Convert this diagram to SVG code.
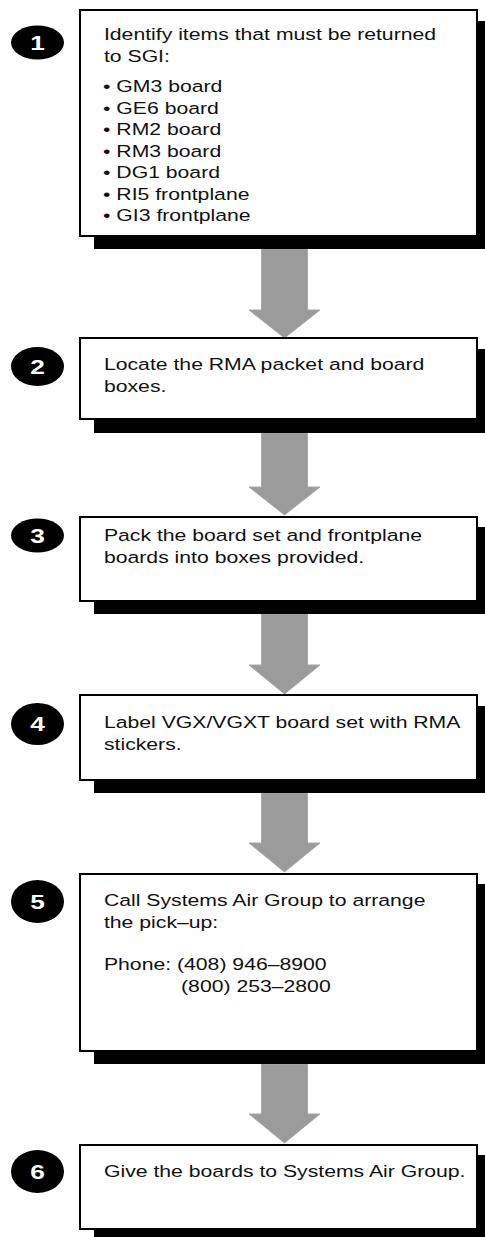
<svg xmlns="http://www.w3.org/2000/svg" width="485" height="1237" viewBox="0 0 485 1237">
<style>
.shadow{fill:#000}
.box{fill:#fff;stroke:#000;stroke-width:2}
.badge{fill:#000}
.num{font-family:"Liberation Sans",Arial,sans-serif;font-weight:bold;font-size:21px;fill:#fff;text-anchor:middle}
.t{font-family:"Liberation Sans",Arial,sans-serif;font-size:16.5px;fill:#111}
.arrow{fill:#9b9b9b;stroke:#a8a8a8;stroke-width:1}
</style>
<rect width="485" height="1237" fill="#fff"/>
<g id="connectors">
<path class="arrow" d="M261.5,249 H307.5 V310 H320 L284.5,338 L249,310 H261.5 Z"/>
<path class="arrow" d="M261.5,433 H307.5 V487 H320 L284.5,515 L249,487 H261.5 Z"/>
<path class="arrow" d="M261.5,614 H307.5 V665 H320 L284.5,694 L249,665 H261.5 Z"/>
<path class="arrow" d="M261.5,793 H307.5 V843 H320 L284.5,872 L249,843 H261.5 Z"/>
<path class="arrow" d="M261.5,1064 H307.5 V1114 H320 L284.5,1143 L249,1114 H261.5 Z"/>
</g>
<g id="step1">
<rect class="shadow" x="94" y="21" width="400" height="228"/>
<rect class="box" x="80" y="10" width="397" height="226"/>
<ellipse class="badge" cx="37.5" cy="42.5" rx="26.5" ry="17"/>
<text class="num" transform="scale(1.25 1)" x="30" y="50">1</text>
<text class="t" transform="scale(1.285 1)"><tspan x="80.9" y="40">Identify items that must be returned</tspan><tspan x="80.9" y="62.5">to SGI:</tspan><tspan x="80.2" y="92.5">• GM3 board</tspan><tspan x="80.2" y="114">• GE6 board</tspan><tspan x="80.2" y="135.5">• RM2 board</tspan><tspan x="80.2" y="157">• RM3 board</tspan><tspan x="80.2" y="178.5">• DG1 board</tspan><tspan x="80.2" y="200">• RI5 frontplane</tspan><tspan x="80.2" y="221.5">• GI3 frontplane</tspan></text>
</g>
<g id="step2">
<rect class="shadow" x="94" y="349" width="400" height="84"/>
<rect class="box" x="80" y="338" width="397" height="81"/>
<ellipse class="badge" cx="37.5" cy="366.5" rx="26.5" ry="19.5"/>
<text class="num" transform="scale(1.25 1)" x="30" y="374">2</text>
<text class="t" transform="scale(1.285 1)"><tspan x="80.9" y="370">Locate the RMA packet and board</tspan><tspan x="80.9" y="392.5">boxes.</tspan></text>
</g>
<g id="step3">
<rect class="shadow" x="94" y="527" width="400" height="87"/>
<rect class="box" x="80" y="517" width="397" height="84"/>
<ellipse class="badge" cx="37.5" cy="535.5" rx="26.5" ry="17"/>
<text class="num" transform="scale(1.25 1)" x="30" y="543">3</text>
<text class="t" transform="scale(1.285 1)"><tspan x="80.9" y="541">Pack the board set and frontplane</tspan><tspan x="80.9" y="563.5">boards into boxes provided.</tspan></text>
</g>
<g id="step4">
<rect class="shadow" x="94" y="706" width="400" height="87"/>
<rect class="box" x="80" y="695" width="397" height="85"/>
<ellipse class="badge" cx="37.5" cy="724" rx="26.5" ry="21"/>
<text class="num" transform="scale(1.25 1)" x="30" y="731.5">4</text>
<text class="t" transform="scale(1.285 1)"><tspan x="80.9" y="728">Label VGX/VGXT board set with RMA</tspan><tspan x="80.9" y="750.5">stickers.</tspan></text>
</g>
<g id="step5">
<rect class="shadow" x="94" y="884" width="400" height="180"/>
<rect class="box" x="80" y="874" width="397" height="177"/>
<ellipse class="badge" cx="37.5" cy="901.5" rx="26.5" ry="21.5"/>
<text class="num" transform="scale(1.25 1)" x="30" y="909">5</text>
<text class="t" transform="scale(1.285 1)"><tspan x="80.9" y="906">Call Systems Air Group to arrange</tspan><tspan x="80.9" y="928.5">the pick–up:</tspan><tspan x="80.9" y="970">Phone: (408) 946–8900</tspan><tspan x="140.9" y="992.5">(800) 253–2800</tspan></text>
</g>
<g id="step6">
<rect class="shadow" x="94" y="1155" width="400" height="90"/>
<rect class="box" x="80" y="1145" width="397" height="84"/>
<ellipse class="badge" cx="37.5" cy="1171.5" rx="26.5" ry="21.5"/>
<text class="num" transform="scale(1.25 1)" x="30" y="1179">6</text>
<text class="t" transform="scale(1.285 1)"><tspan x="80.9" y="1177">Give the boards to Systems Air Group.</tspan></text>
</g>
</svg>
